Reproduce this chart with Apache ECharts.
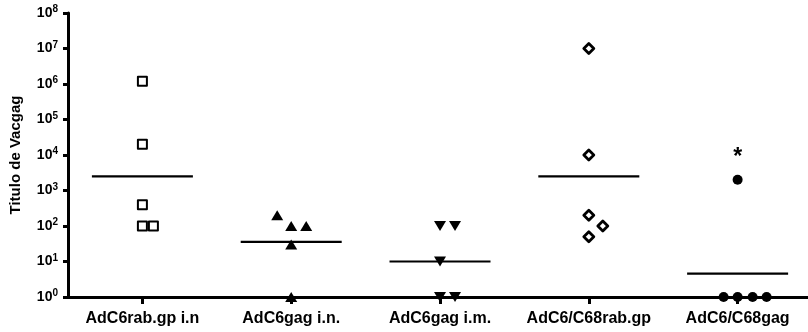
<!DOCTYPE html>
<html>
<head>
<meta charset="utf-8">
<script src="https://cdn.jsdelivr.net/npm/echarts@6/dist/echarts.min.js"></script>
<style>
  html, body { margin: 0; padding: 0; background: #fff; }
  #chart { width: 808px; height: 332px; }
</style>
</head>
<body>
<div id="chart"></div>
<script>
// Vaccine groups along the x axis
const categories = ['AdC6rab.gp i.n', 'AdC6gag i.n.', 'AdC6gag i.m.', 'AdC6/C68rab.gp', 'AdC6/C68gag'];

// Individual titres per group
const rabGpIn   = [1200000, 20000, 400, 100, 100];
const gagIn     = [200, 100, 100, 30, 1];
const gagIm     = [100, 100, 10, 1, 1];
const c68RabGp  = [10000000, 10000, 200, 100, 50];
const c68Gag    = [2000, 1, 1, 1, 1];

// Log tick exponents shown on the y axis
const yExponents = [0, 1, 2, 3, 4, 5, 6, 7, 8];

const groups = [rabGpIn, gagIn, gagIm, c68RabGp, c68Gag];
const groupIndex = categories.map((c, i) => i);

// Horizontal spread (px) so coinciding points sit side by side
const spread = [
  [0, 0, 0, 0, 11],
  [-14, 0, 15, 0, 0],
  [0, 15, 0, 0, 15],
  [0, 0, 0, 14, 0],
  [0, -14, 0, 15, 29]
];

const symbols = [
  { symbol: 'rect', size: 9, fill: '#fff', border: 2 },
  { symbol: 'triangle', size: [12, 10], fill: '#000', border: 0 },
  { symbol: 'triangle', size: [12, 10], fill: '#000', border: 0, rotate: 180 },
  { symbol: 'diamond', size: [10, 10], fill: '#fff', border: 2.8 },
  { symbol: 'circle', size: 10, fill: '#000', border: 0 }
];

// Geometric mean of each group
function geoMean(arr) {
  const s = arr.reduce((a, v) => a + Math.log10(v), 0);
  return Math.pow(10, s / arr.length);
}
const means = groups.map(geoMean);

const font = '"Liberation Sans", Arial, sans-serif';

const pointSeries = groups.map((vals, gi) => {
  const st = symbols[gi];
  return {
    type: 'scatter',
    symbol: st.symbol,
    symbolSize: st.size,
    symbolRotate: st.rotate || 0,
    itemStyle: { color: st.fill, borderColor: '#000', borderWidth: st.border, borderJoin: 'round', opacity: 1 },
    z: 5,
    data: vals.map((v, i) => {
      const item = { value: [gi, v], symbolOffset: [spread[gi][i], 0] };
      if (gi === 4 && i === 0) {
        item.label = {
          show: true, position: 'top', distance: 6, formatter: '*',
          fontFamily: font, fontWeight: 'bold', fontSize: 23, color: '#000'
        };
      }
      return item;
    })
  };
});

const meanSeries = {
  type: 'custom',
  z: 4,
  renderItem: function (params, api) {
    const c = api.coord([api.value(0), api.value(1)]);
    const half = 50.5;
    return {
      type: 'line',
      shape: { x1: c[0] - half, y1: c[1], x2: c[0] + half, y2: c[1] },
      style: { stroke: '#000', lineWidth: 2.2 }
    };
  },
  data: means.map((m, i) => [i, m])
};

const chart = echarts.init(document.getElementById('chart'), null, { renderer: 'canvas' });
chart.setOption({
  animation: false,
  backgroundColor: '#fff',
  grid: { left: 67, top: 13, right: 0, bottom: 35, containLabel: false },
  xAxis: {
    type: 'value',
    // the axis runs on past the last group's band to the right edge
    min: -0.5,
    max: 4.473,
    axisLine: { show: true, onZero: false, lineStyle: { color: '#000', width: 3 } },
    axisTick: { show: true, customValues: groupIndex, length: 7, lineStyle: { color: '#000', width: 3 } },
    axisLabel: {
      customValues: groupIndex,
      formatter: function (v) { return categories[Math.round(v)]; },
      margin: 14, color: '#000', fontFamily: font, fontWeight: 'bold', fontSize: 16
    },
    splitLine: { show: false }
  },
  yAxis: {
    type: 'log',
    logBase: 10,
    min: Math.pow(10, yExponents[0]),
    max: Math.pow(10, yExponents[yExponents.length - 1]),
    interval: 1,
    name: 'Titulo de Vacgag',
    nameLocation: 'middle',
    nameGap: 45,
    nameTextStyle: { color: '#000', fontFamily: font, fontWeight: 'bold', fontSize: 15 },
    axisLine: { show: true, onZero: false, lineStyle: { color: '#000', width: 3 } },
    axisTick: { show: true, length: 5, lineStyle: { color: '#000', width: 3 } },
    axisLabel: {
      margin: 10,
      formatter: function (v) {
        const e = Math.round(Math.log10(v));
        return '{b|10}{s|' + e + '}';
      },
      rich: {
        b: { fontFamily: font, fontWeight: 'bold', fontSize: 14, color: '#000', lineHeight: 17 },
        s: { fontFamily: font, fontWeight: 'bold', fontSize: 10, color: '#000', verticalAlign: 'top', lineHeight: 10 }
      }
    },
    splitLine: { show: false },
    minorTick: { show: false }
  },
  series: [meanSeries].concat(pointSeries)
});
</script>
</body>
</html>
